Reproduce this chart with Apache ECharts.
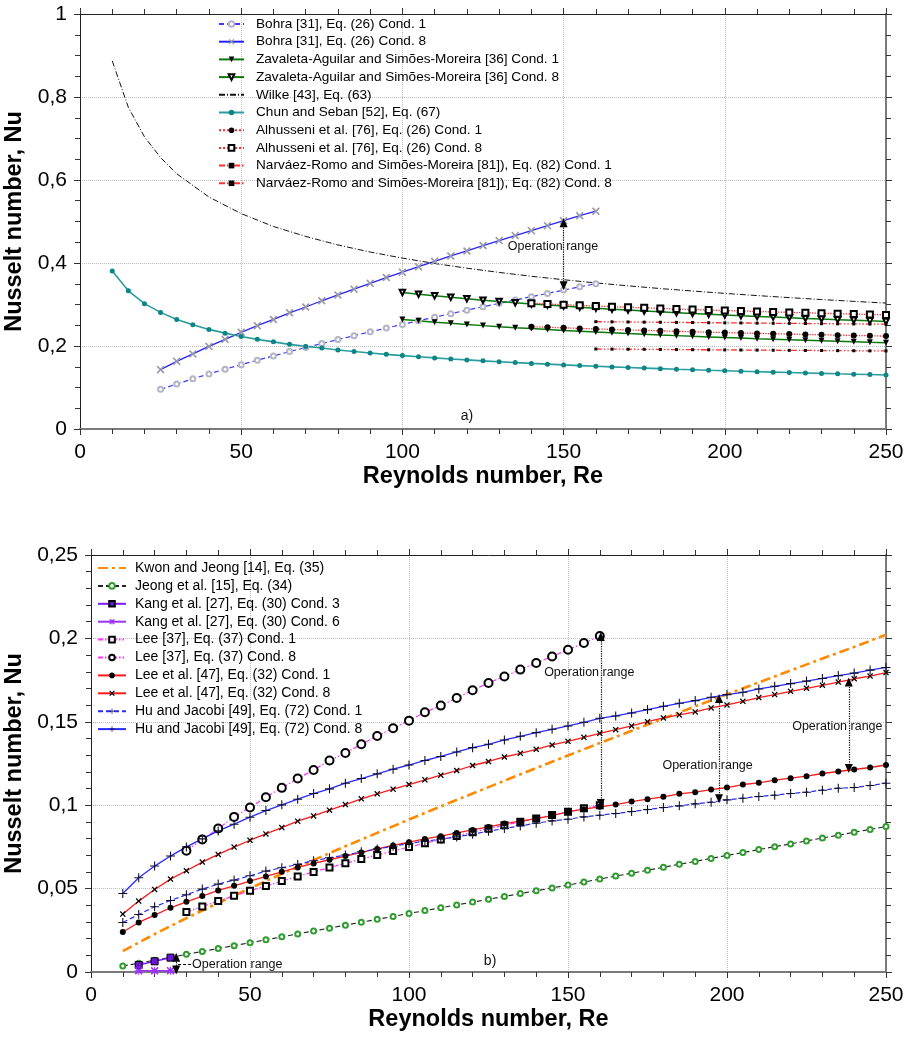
<!DOCTYPE html>
<html>
<head>
<meta charset="utf-8">
<script src="https://cdn.jsdelivr.net/npm/echarts@6/dist/echarts.min.js"></script>
<style>
html, body { margin: 0; padding: 0; background: #fff; }
#chart { width: 906px; height: 1037px; }
</style>
</head>
<body>
<div id="chart"></div>
<script>
// ---- Reynolds numbers (x values) ----
const re10to250 = [10,15,20,25,30,35,40,45,50,55,60,65,70,75,80,85,90,95,100,105,110,115,120,125,130,135,140,145,150,155,160,165,170,175,180,185,190,195,200,205,210,215,220,225,230,235,240,245,250];
const re25to160 = [25,30,35,40,45,50,55,60,65,70,75,80,85,90,95,100,105,110,115,120,125,130,135,140,145,150,155,160];
const re100to250 = [100,105,110,115,120,125,130,135,140,145,150,155,160,165,170,175,180,185,190,195,200,205,210,215,220,225,230,235,240,245,250];
const re140to250 = [140,145,150,155,160,165,170,175,180,185,190,195,200,205,210,215,220,225,230,235,240,245,250];
const re160to250 = [160,165,170,175,180,185,190,195,200,205,210,215,220,225,230,235,240,245,250];
const re30to160 = [30,35,40,45,50,55,60,65,70,75,80,85,90,95,100,105,110,115,120,125,130,135,140,145,150,155,160];
const re15to25 = [15,20,25];
const reWilke = [10,15,20,25,30,40,50,60,70,80,90,100,110,120,130,140,150,160,170,180,190,200,210,220,230,240,250];
const reKwon = [10,20,30,40,50,60,70,80,90,100,110,120,130,140,150,160,170,180,190,200,210,220,230,240,250];

// ---- chart a) Nusselt numbers ----
const bohraC1 = [0.0955,0.1084,0.1209,0.1328,0.1441,0.1551,0.1658,0.1761,0.1865,0.1963,0.2060,0.2156,0.2249,0.2341,0.2431,0.252,0.2608,0.2694,0.2779,0.2863,0.2946,0.3028,0.3109,0.3189,0.3268,0.3347,0.3425,0.3502];
const bohraC8 = [0.143,0.163,0.181,0.199,0.216,0.233,0.249,0.264,0.280,0.294,0.309,0.323,0.337,0.351,0.365,0.378,0.391,0.404,0.417,0.429,0.442,0.454,0.466,0.478,0.490,0.502,0.514,0.525];
const zavC1 = [0.264,0.2607,0.2575,0.2546,0.2518,0.2491,0.2466,0.2442,0.2419,0.2397,0.2376,0.2356,0.2336,0.2318,0.23,0.2283,0.2266,0.225,0.2234,0.2219,0.2205,0.2191,0.2177,0.2164,0.2151,0.2138,0.2126,0.2114,0.2103,0.2091,0.208];
const zavC8 = [0.329,0.3249,0.3209,0.3173,0.3138,0.3104,0.3073,0.3043,0.3014,0.2987,0.2961,0.2936,0.2912,0.2888,0.2866,0.2844,0.2824,0.2803,0.2784,0.2766,0.2747,0.273,0.2713,0.2697,0.268,0.2665,0.2649,0.2635,0.262,0.2606,0.2593];
const wilke = [0.887,0.775,0.704,0.654,0.615,0.559,0.519,0.488,0.464,0.4435,0.4264,0.4118,0.3988,0.3875,0.3773,0.368,0.3597,0.352,0.345,0.3384,0.3325,0.3268,0.3215,0.3166,0.3119,0.3076,0.3034];
const chunSeban = [0.381,0.333,0.302,0.281,0.264,0.251,0.240,0.231,0.223,0.216,0.210,0.204,0.199,0.195,0.1905,0.1867,0.1832,0.1799,0.1769,0.174,0.1713,0.1688,0.1665,0.1642,0.1621,0.16,0.1581,0.1563,0.1545,0.1528,0.1512,0.1496,0.1482,0.1468,0.1454,0.144,0.1428,0.1415,0.1404,0.1392,0.1381,0.137,0.136,0.135,0.134,0.133,0.1321,0.1312,0.1303];
const alhC1 = [0.2466,0.2452,0.2438,0.2424,0.2412,0.2399,0.2387,0.2376,0.2365,0.2354,0.2343,0.2333,0.2323,0.2314,0.2304,0.2296,0.2287,0.2278,0.227,0.2262,0.2254,0.2246,0.2238];
const alhC8 = [0.303,0.3012,0.2995,0.2979,0.2963,0.2948,0.2933,0.2919,0.2905,0.2892,0.2879,0.2867,0.2855,0.2843,0.2832,0.2821,0.281,0.2799,0.2789,0.2779,0.2769,0.276,0.275];
const narvC1 = [0.1928,0.1925,0.1922,0.192,0.1917,0.1914,0.1911,0.1909,0.1906,0.1903,0.1901,0.1898,0.1896,0.1893,0.1891,0.1888,0.1886,0.1883,0.1881];
const narvC8 = [0.2586,0.2582,0.2579,0.2575,0.2572,0.2568,0.2565,0.2561,0.2558,0.2555,0.2551,0.2548,0.2545,0.2542,0.2538,0.2535,0.2532,0.2529,0.2526];

// ---- chart b) Nusselt numbers ----
const kwon = [0.01257,0.0227,0.0323,0.0414,0.0502,0.0588,0.0671,0.0754,0.0834,0.0914,0.0993,0.107,0.1147,0.1223,0.1298,0.1373,0.1446,0.152,0.1592,0.1665,0.1736,0.1808,0.1879,0.1949,0.2022];
const jeong = [0.0036,0.0053,0.0071,0.0088,0.0106,0.0123,0.0141,0.0158,0.0176,0.0193,0.0211,0.0228,0.0246,0.0263,0.0281,0.0298,0.0316,0.0333,0.0351,0.0368,0.0385,0.0402,0.0419,0.0436,0.0453,0.047,0.0487,0.0504,0.0521,0.0539,0.0557,0.0575,0.0592,0.061,0.0628,0.0646,0.0663,0.0681,0.0699,0.0716,0.0734,0.0751,0.0768,0.0786,0.0803,0.082,0.0838,0.0855,0.0872];
const kangC3 = [0.0042,0.0064,0.0086];
const kangC6 = [0.0007,0.0007,0.0008];
const lee37C1 = [0.0360,0.0393,0.0425,0.0457,0.0487,0.0516,0.0545,0.0573,0.0600,0.0626,0.0652,0.0677,0.0701,0.0725,0.0749,0.0772,0.0794,0.0816,0.0838,0.0859,0.0880,0.0901,0.0921,0.0941,0.0961,0.0981,0.1000];
const lee37C8 = [0.0727,0.0795,0.086,0.093,0.0986,0.1048,0.1104,0.116,0.1211,0.1268,0.1313,0.1365,0.1415,0.1461,0.1507,0.1557,0.1597,0.1643,0.1689,0.1733,0.1772,0.1813,0.1852,0.1892,0.1932,0.1972,0.2014];
const lee47C1 = [0.024,0.0297,0.0341,0.0385,0.0421,0.0455,0.0489,0.0517,0.0545,0.0573,0.0601,0.0627,0.0651,0.0673,0.0695,0.0717,0.0738,0.0759,0.0778,0.0798,0.0814,0.0834,0.0852,0.087,0.089,0.0904,0.092,0.0938,0.096,0.0976,0.099,0.1004,0.1022,0.1036,0.105,0.1068,0.1078,0.1094,0.1106,0.1124,0.1134,0.115,0.1162,0.1174,0.119,0.1202,0.1214,0.1226,0.1241];
const lee47C8 = [0.0347,0.0425,0.0495,0.0557,0.0607,0.0659,0.0705,0.0749,0.079,0.0828,0.0866,0.0904,0.0936,0.097,0.1004,0.1038,0.1068,0.1096,0.1124,0.1152,0.118,0.1208,0.1238,0.1262,0.1289,0.1311,0.1335,0.1361,0.1383,0.1407,0.1431,0.1453,0.1475,0.1501,0.1523,0.1541,0.1559,0.1583,0.1601,0.1623,0.1645,0.1663,0.1683,0.1701,0.1719,0.1738,0.1758,0.1774,0.1795];
const huC1 = [0.0297,0.0345,0.0391,0.0429,0.0463,0.0497,0.0527,0.0551,0.0577,0.0605,0.0625,0.0645,0.0667,0.0685,0.0701,0.0721,0.0738,0.0754,0.0771,0.0784,0.0796,0.081,0.0826,0.0844,0.086,0.0876,0.0892,0.0906,0.0916,0.093,0.094,0.095,0.0962,0.0974,0.0986,0.0996,0.1008,0.1018,0.1032,0.1042,0.1052,0.106,0.107,0.1078,0.109,0.1102,0.1106,0.1118,0.1132];
const huC8 = [0.0471,0.0565,0.0635,0.0695,0.075,0.0798,0.0846,0.0886,0.0928,0.0968,0.1002,0.1036,0.107,0.1098,0.1132,0.116,0.1188,0.1216,0.1241,0.1268,0.1292,0.1319,0.1345,0.1365,0.1391,0.1413,0.1435,0.1455,0.1475,0.1497,0.1521,0.1535,0.1553,0.1573,0.1593,0.1611,0.1627,0.1647,0.1663,0.1677,0.1697,0.1713,0.1729,0.1744,0.176,0.1777,0.1792,0.181,0.1826];

// operation range arrows: [Re, Nu top, Nu bottom] and label centres [Re, Nu]
const opArrowsA = [[150, 0.497, 0.345]];
const opLabelsA = [[146.7, 0.439]];
const opArrowsB = [[160.3, 0.2012, 0.1010], [197.5, 0.164, 0.1038], [238.3, 0.1738, 0.122], [26.8, 0.0088, 0.0012]];
const opLabelsB = [[156.7, 0.1795], [193.9, 0.1235], [234.7, 0.1469]];

const FONT = 'Liberation Sans';
const SYM_X = 'path://M0,1.5L1.5,0L5,3.5L8.5,0L10,1.5L6.5,5L10,8.5L8.5,10L5,6.5L1.5,10L0,8.5L3.5,5Z';
const SYM_PLUS = 'path://M4.4,0H5.6V4.4H10V5.6H5.6V10H4.4V5.6H0V4.4H4.4Z';
const SYM_STAR = 'path://M4.4,0H5.6V4.4H10V5.6H5.6V10H4.4V5.6H0V4.4H4.4Z M0,1.5L1.5,0L5,3.5L8.5,0L10,1.5L6.5,5L10,8.5L8.5,10L5,6.5L1.5,10L0,8.5L3.5,5Z';

function pairs(xs, ys) {
    const out = [];
    for (let i = 0; i < Math.min(xs.length, ys.length); i++) out.push([xs[i], ys[i]]);
    return out;
}

function ser(g, name, xs, ys, line, sym) {
    return {
        type: 'line', name: name,
        xAxisIndex: g * 2, yAxisIndex: g * 2,
        data: pairs(xs, ys),
        lineStyle: line,
        symbol: sym ? sym.symbol : 'none',
        symbolSize: sym ? sym.size : 0,
        symbolRotate: sym && sym.rotate ? sym.rotate : 0,
        itemStyle: sym ? sym.item : { color: line.color },
        showSymbol: !!sym,
        emphasis: { disabled: true },
        z: 3
    };
}

const nuFmt = (v) => String(+v.toFixed(4)).replace('.', ',');

function xAxes(g) {
    const base = { type: 'value', gridIndex: g, min: 0, max: 250, interval: 50 };
    return [
        Object.assign({}, base, {
            position: 'bottom',
            axisLine: { show: true, onZero: false, lineStyle: { color: '#7a7a7a', width: 2 } },
            axisTick: { show: true, inside: false, length: 6, lineStyle: { color: '#333' } },
            minorTick: { show: true, splitNumber: 5, length: 5, lineStyle: { color: '#333' } },
            axisLabel: { show: true, color: '#000', fontSize: 21, fontFamily: FONT, margin: 13 },
            splitLine: { show: true, lineStyle: { color: '#bdbdbd', type: 'dotted', width: 1 } },
            minorSplitLine: { show: false },
            name: 'Reynolds number, Re', nameLocation: 'middle', nameGap: 36,
            nameTextStyle: { fontSize: 23.5, fontWeight: 'bold', color: '#000', fontFamily: FONT }
        }),
        Object.assign({}, base, {
            position: 'top',
            axisLine: { show: true, onZero: false, lineStyle: { color: '#222', width: 1 } },
            axisTick: { show: true, inside: false, length: 6, lineStyle: { color: '#333' } },
            minorTick: { show: true, splitNumber: 5, length: 5, lineStyle: { color: '#333' } },
            axisLabel: { show: false },
            splitLine: { show: false }
        })
    ];
}

function yAxes(g, max, interval, split, gap) {
    const base = { type: 'value', gridIndex: g, min: 0, max: max, interval: interval };
    return [
        Object.assign({}, base, {
            position: 'left',
            axisLine: { show: true, onZero: false, lineStyle: { color: '#222', width: 1 } },
            axisTick: { show: true, inside: false, length: 6, lineStyle: { color: '#333' } },
            minorTick: { show: true, splitNumber: split, length: 5, lineStyle: { color: '#333' } },
            axisLabel: { show: true, color: '#000', fontSize: 21, fontFamily: FONT, margin: 13, formatter: nuFmt },
            splitLine: { show: true, lineStyle: { color: '#bdbdbd', type: 'dotted', width: 1 } },
            minorSplitLine: { show: false },
            name: 'Nusselt number, Nu', nameLocation: 'middle', nameGap: gap,
            nameTextStyle: { fontSize: 23.5, fontWeight: 'bold', color: '#000', fontFamily: FONT }
        }),
        Object.assign({}, base, {
            position: 'right',
            axisLine: { show: true, onZero: false, lineStyle: { color: '#7a7a7a', width: 2 } },
            axisTick: { show: true, inside: false, length: 6, lineStyle: { color: '#333' } },
            minorTick: { show: true, splitNumber: split, length: 5, lineStyle: { color: '#333' } },
            axisLabel: { show: false },
            splitLine: { show: false }
        })
    ];
}

function arrowLines(arr) {
    return arr.map(a => [{ coord: [a[0], a[1]] }, { coord: [a[0], a[2]] }]);
}
function opLabels(arr) {
    return arr.map(a => ({ coord: [a[0], a[1]], value: 'Operation range' }));
}
const markPointBase = {
    symbol: 'circle', symbolSize: 0, silent: true,
    itemStyle: { color: 'transparent' },
    label: { show: true, position: 'inside', color: '#111', fontSize: 12.5, fontFamily: FONT, formatter: (p) => p.data.value }
};

// ---- series of chart a) ----
const seriesA = [
    ser(0, 'Bohra [31], Eq. (26) Cond. 1', re25to160, bohraC1, { color: '#3a3aff', width: 1.2, type: [5, 3] },
        { symbol: 'emptyCircle', size: 5, item: { color: '#b4b4c8', borderWidth: 1 } }),
    ser(0, 'Bohra [31], Eq. (26) Cond. 8', re25to160, bohraC8, { color: '#2424ff', width: 1.3, type: 'solid' },
        { symbol: SYM_X, size: 8, item: { color: '#9a9aa6' } }),
    ser(0, 'Zavaleta-Aguilar and Simões-Moreira [36] Cond. 1', re100to250, zavC1, { color: '#0a7a0a', width: 1.5, type: 'solid' },
        { symbol: 'triangle', size: 6, rotate: 180, item: { color: '#000' } }),
    ser(0, 'Zavaleta-Aguilar and Simões-Moreira [36] Cond. 8', re100to250, zavC8, { color: '#0a7a0a', width: 1.5, type: 'solid' },
        { symbol: 'emptyTriangle', size: 5.5, rotate: 180, item: { color: '#000', borderWidth: 1 } }),
    ser(0, 'Wilke [43], Eq. (63)', reWilke, wilke, { color: '#111', width: 1, type: [6, 2, 1, 2] }, null),
    ser(0, 'Chun and Seban [52], Eq. (67)', re10to250, chunSeban, { color: '#2a9c9c', width: 1.6, type: 'solid' },
        { symbol: 'circle', size: 5, item: { color: '#0b8585' } }),
    ser(0, 'Alhusseni et al. [76], Eq. (26) Cond. 1', re140to250, alhC1, { color: '#ff2a2a', width: 1.3, type: 'dotted' },
        { symbol: 'circle', size: 6, item: { color: '#000' } }),
    ser(0, 'Alhusseni et al. [76], Eq. (26) Cond. 8', re140to250, alhC8, { color: '#ff2a2a', width: 1.3, type: 'dotted' },
        { symbol: 'emptyRect', size: 6, item: { color: '#000', borderWidth: 1 } }),
    ser(0, 'Narváez-Romo and Simões-Moreira [81]), Eq. (82) Cond. 1', re160to250, narvC1, { color: '#ff3030', width: 1.3, type: [6, 2, 1.5, 2, 1.5, 2] },
        { symbol: 'rect', size: 3, item: { color: '#000' } }),
    ser(0, 'Narváez-Romo and Simões-Moreira [81]), Eq. (82) Cond. 8', re160to250, narvC8, { color: '#ff3030', width: 1.3, type: [6, 2, 1.5, 2, 1.5, 2] },
        { symbol: 'rect', size: 3, item: { color: '#000' } })
];
seriesA[4].markLine = {
    silent: true, symbol: ['triangle', 'triangle'], symbolSize: [8, 9],
    lineStyle: { color: '#000', type: 'dotted', width: 1.2 },
    label: { show: false }, data: arrowLines(opArrowsA)
};
seriesA[4].markPoint = Object.assign({}, markPointBase, {
    data: opLabels(opLabelsA).concat([{ coord: [120, 0.03], value: 'a)', label: { fontSize: 14 } }])
});

// ---- series of chart b) ----
const seriesB = [
    ser(1, 'Kwon and Jeong [14], Eq. (35)', reKwon, kwon, { color: '#ff8a00', width: 2.6, type: [10, 4, 3, 4] }, null),
    ser(1, 'Jeong et al. [15], Eq. (34)', re10to250, jeong, { color: '#222', width: 1.1, type: [5, 3] },
        { symbol: 'emptyCircle', size: 5, item: { color: '#2f9e2f', borderWidth: 1.2 } }),
    ser(1, 'Kang et al. [27], Eq. (30) Cond. 3', re15to25, kangC3, { color: '#7a1cff', width: 1.5, type: 'solid' },
        { symbol: 'rect', size: 7, item: { color: '#6a18d0', borderColor: '#000', borderWidth: 1 } }),
    ser(1, 'Kang et al. [27], Eq. (30) Cond. 6', re15to25, kangC6, { color: '#9a30ff', width: 1.5, type: 'solid' },
        { symbol: SYM_STAR, size: 8, item: { color: '#9a30ff' } }),
    ser(1, 'Lee [37], Eq. (37) Cond. 1', re30to160, lee37C1, { color: '#ff33ff', width: 1.2, type: [5, 2, 1.5, 2, 1.5, 2] },
        { symbol: 'emptyRect', size: 6, item: { color: '#000', borderWidth: 1 } }),
    ser(1, 'Lee [37], Eq. (37) Cond. 8', re30to160, lee37C8, { color: '#ff33ff', width: 1.2, type: [5, 2, 1.5, 2, 1.5, 2] },
        { symbol: 'emptyCircle', size: 8, item: { color: '#000', borderWidth: 1 } }),
    ser(1, 'Lee et al. [47], Eq. (32) Cond. 1', re10to250, lee47C1, { color: '#ff1a1a', width: 1.3, type: 'solid' },
        { symbol: 'circle', size: 6, item: { color: '#000' } }),
    ser(1, 'Lee et al. [47], Eq. (32) Cond. 8', re10to250, lee47C8, { color: '#ff1a1a', width: 1.3, type: 'solid' },
        { symbol: SYM_X, size: 6, item: { color: '#000' } }),
    ser(1, 'Hu and Jacobi [49], Eq. (72) Cond. 1', re10to250, huC1, { color: '#2a2aff', width: 1.2, type: [5, 3] },
        { symbol: SYM_PLUS, size: 9, item: { color: '#10102a' } }),
    ser(1, 'Hu and Jacobi [49], Eq. (72) Cond. 8', re10to250, huC8, { color: '#2a2aff', width: 1.3, type: 'solid' },
        { symbol: SYM_PLUS, size: 9, item: { color: '#10102a' } })
];
seriesB[1].markLine = {
    silent: true, symbol: ['triangle', 'triangle'], symbolSize: [8, 9],
    lineStyle: { color: '#000', type: 'dotted', width: 1.2 },
    label: { show: false },
    data: arrowLines(opArrowsB).concat([[
        { coord: [27.4, 0.0045], symbol: 'none', lineStyle: { type: [3, 2] } },
        { coord: [31.5, 0.0045], symbol: 'none' }
    ]])
};
seriesB[1].markPoint = Object.assign({}, markPointBase, {
    data: opLabels(opLabelsB).concat([
        { coord: [31.8, 0.0042], value: 'Operation range', label: { position: 'right', distance: 0 } },
        { coord: [125.5, 0.0066], value: 'b)', label: { fontSize: 14 } }
    ])
});

// legend entries; lines without markers get an invisible legend symbol
const noSymbol = ['Wilke [43], Eq. (63)', 'Kwon and Jeong [14], Eq. (35)'];
const legendData = (list) => list.map(s => noSymbol.includes(s.name)
    ? { name: s.name, itemStyle: { opacity: 0 } } : { name: s.name });

const chart = echarts.init(document.getElementById('chart'), null, { renderer: 'canvas' });
const option = {
    animation: false,
    backgroundColor: '#fff',
    textStyle: { fontFamily: FONT },
    grid: [
        { left: 80, top: 14, width: 806, height: 415, outerBoundsMode: 'none', containLabel: false },
        { left: 91, top: 555, width: 795, height: 417, outerBoundsMode: 'none', containLabel: false }
    ],
    xAxis: xAxes(0).concat(xAxes(1)),
    yAxis: yAxes(0, 1, 0.2, 4, 40).concat(yAxes(1, 0.25, 0.05, 5, 51)),
    legend: [
        {
            data: legendData(seriesA), orient: 'vertical', left: 218, top: 17, padding: 0,
            itemWidth: 25, itemHeight: 7, itemGap: 3.7, selectedMode: false,
            textStyle: { fontSize: 13.6, lineHeight: 14, color: '#000', fontFamily: FONT, padding: [0, 0, 0, 7] }
        },
        {
            data: legendData(seriesB), orient: 'vertical', left: 97, top: 561, padding: 0,
            itemWidth: 28, itemHeight: 7, itemGap: 3.9, selectedMode: false,
            textStyle: { fontSize: 14, lineHeight: 14, color: '#000', fontFamily: FONT, padding: [0, 0, 0, 4] }
        }
    ],
    series: seriesA.concat(seriesB)
};
chart.setOption(option);
</script>
</body>
</html>
